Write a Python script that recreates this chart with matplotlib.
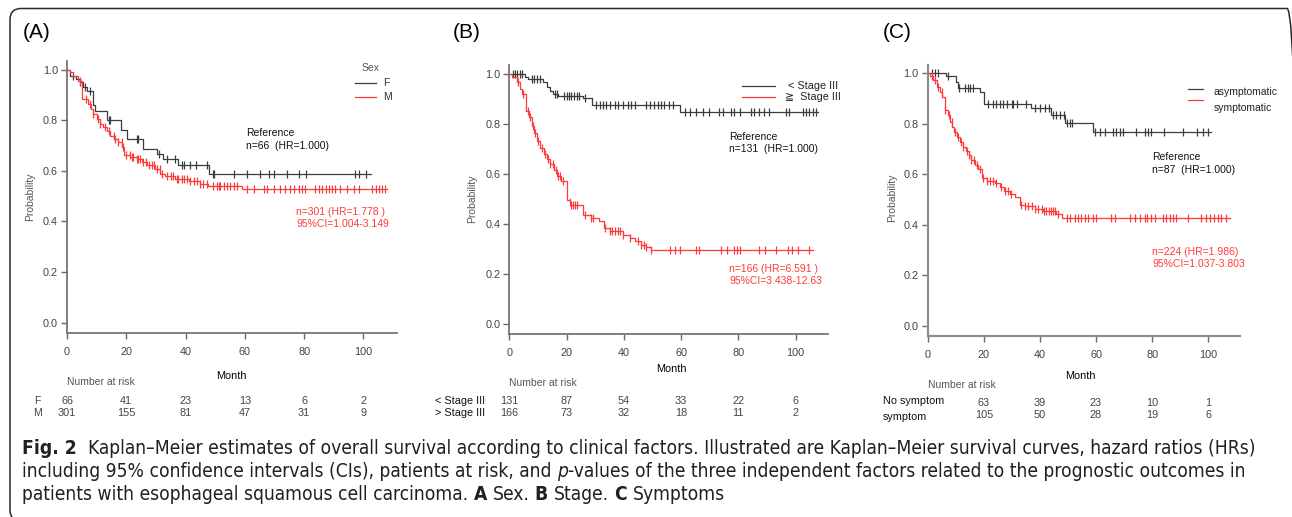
import matplotlib
matplotlib.use('Agg')
import matplotlib.pyplot as plt
from matplotlib import font_manager
from matplotlib.lines import Line2D
from matplotlib.patches import FancyBboxPatch
from matplotlib.transforms import blended_transform_factory, IdentityTransform
import numpy as np

W, H = 1292, 517

# ---- data (months, survival probability) ----
# (A) Sex
f_times = [0, 1.0, 3.0, 4.4, 5.5, 6.6, 8.9, 9.5, 13.4, 18.2, 20.2, 25.8, 30.3, 32.5, 37.6, 48.0]
f_surv = [1.0, 0.977, 0.964, 0.951, 0.931, 0.918, 0.859, 0.836, 0.803, 0.763, 0.727, 0.685, 0.668, 0.646, 0.625, 0.588]
f_end = 102.4
f_cens = [2.1, 4.4, 6.1, 7.8, 14.0, 14.5, 23.5, 24.1, 30.9, 33.7, 36.5, 38.7, 39.5, 41.6, 43.6, 47.2,
          49.2, 49.7, 56.2, 60.7, 65.2, 68.0, 69.7, 74.2, 78.2, 80.7, 97.3, 98.4, 100.7]

m_times = [0, 1.0, 2.1, 3.8, 5.0, 7.2, 8.0, 8.9, 10.0, 11.1, 12.3, 13.4, 14.5, 16.0, 17.3, 18.7, 19.3,
           21.3, 23.5, 25.2, 27.1, 29.7, 31.4, 33.1, 36.5, 41.0, 44.9, 47.7, 59.0]
m_surv = [1.0, 0.990, 0.977, 0.957, 0.885, 0.865, 0.846, 0.826, 0.806, 0.786, 0.773, 0.757, 0.740, 0.727,
          0.714, 0.694, 0.665, 0.655, 0.646, 0.636, 0.622, 0.609, 0.589, 0.580, 0.570, 0.560, 0.550, 0.541, 0.530]
m_end = 108.0
m_cens = [4.4, 6.4, 7.8, 8.9, 10.4, 11.1, 12.8, 14.0, 15.7, 16.2, 17.3, 18.5, 19.0, 19.9, 21.1, 21.8, 22.4,
          23.5, 24.1, 24.7, 25.8, 26.7, 27.8, 28.6, 29.2, 30.3, 31.2, 32.0, 33.7, 35.0, 35.9, 37.0, 37.6,
          38.7, 39.5, 40.4, 41.6, 42.7, 43.8, 44.9, 45.8, 47.2, 49.4, 50.6, 51.1, 51.7, 52.8, 53.9, 55.1,
          56.2, 57.3, 60.7, 63.0, 66.3, 67.5, 69.7, 72.0, 73.6, 75.3, 76.5, 78.2, 79.3, 80.4, 83.8, 84.9,
          86.0, 87.2, 88.3, 89.4, 90.5, 92.2, 94.5, 96.7, 98.4, 102.9, 104.1, 105.2, 106.3, 107.4]

# (B) Stage
lo_times = [0, 5.5, 6.6, 11.9, 13.0, 14.2, 15.3, 17.1, 25.8, 28.9, 59.5]
lo_surv = [1.0, 0.988, 0.979, 0.966, 0.948, 0.932, 0.919, 0.910, 0.902, 0.876, 0.846]
lo_end = 107.7
lo_cens = [1.2, 2.0, 2.8, 3.7, 4.6, 7.8, 8.6, 9.5, 10.7, 15.9, 16.5, 19.0, 20.0, 20.9, 21.7, 22.5, 23.5,
           24.3, 26.4, 30.4, 31.6, 32.8, 33.9, 35.1, 36.8, 38.0, 39.7, 41.5, 42.6, 43.8, 47.9, 49.0, 50.4,
           51.9, 53.1, 54.2, 55.7, 57.1, 61.2, 63.0, 65.3, 67.6, 69.9, 73.4, 74.6, 77.5, 78.6, 80.4, 84.4,
           85.6, 87.3, 89.1, 90.8, 96.6, 97.8, 102.4, 103.6, 104.8, 105.9, 107.1]

hi_times = [0, 1.1, 2.6, 3.7, 4.3, 6.0, 6.9, 7.8, 8.7, 9.5, 10.7, 12.2, 13.0, 14.2, 15.7, 16.8, 18.2,
            20.0, 21.1, 21.7, 25.8, 28.7, 31.3, 33.1, 35.1, 39.7, 42.1, 43.8, 46.1, 47.9, 49.6]
hi_surv = [1.0, 0.986, 0.966, 0.940, 0.919, 0.852, 0.826, 0.792, 0.765, 0.732, 0.705, 0.679, 0.658, 0.638,
           0.614, 0.592, 0.572, 0.498, 0.489, 0.478, 0.438, 0.425, 0.411, 0.385, 0.371, 0.358, 0.344, 0.331,
           0.318, 0.307, 0.295]
hi_end = 105.9
hi_cens = [3.1, 4.9, 6.4, 7.2, 8.4, 9.0, 10.1, 11.3, 12.4, 13.4, 14.2, 15.3, 16.2, 17.1, 17.7, 18.8, 21.1,
           21.7, 22.3, 22.9, 23.5, 26.4, 28.7, 29.3, 33.3, 35.1, 35.7, 36.8, 38.0, 38.6, 39.7, 42.1, 44.9,
           46.1, 47.0, 47.9, 49.6, 56.2, 57.7, 59.5, 65.3, 66.2, 74.0, 76.1, 78.6, 79.6, 80.7, 87.3, 89.4,
           93.2, 97.2, 98.9, 100.7, 104.5]

# (C) Symptoms
asy_times = [0, 6.4, 10.0, 10.9, 18.6, 20.0, 36.8, 43.9, 49.1, 59.0]
asy_surv = [1.0, 0.989, 0.967, 0.943, 0.927, 0.880, 0.861, 0.834, 0.803, 0.768]
asy_end = 100.8
asy_cens = [1.4, 2.6, 3.8, 7.3, 11.3, 13.3, 14.5, 15.1, 16.2, 21.6, 23.4, 24.5, 25.7, 26.9, 28.1, 29.9,
            30.5, 31.7, 35.2, 38.2, 40.0, 41.7, 43.2, 44.7, 45.9, 47.1, 48.6, 49.8, 50.6, 51.5, 59.8, 61.3,
            63.1, 66.1, 67.2, 68.4, 69.6, 74.4, 77.3, 78.5, 79.7, 84.2, 91.0, 96.1, 98.1, 99.9]

sym_times = [0, 0.8, 2.0, 3.2, 4.4, 5.2, 6.2, 7.1, 7.9, 8.8, 9.5, 10.3, 11.5, 12.7, 13.5, 14.7, 15.6,
             16.8, 18.0, 19.4, 21.0, 23.9, 25.7, 27.3, 29.3, 31.1, 32.9, 34.6, 38.2, 41.1, 45.9, 47.7]
sym_surv = [1.0, 0.989, 0.973, 0.947, 0.927, 0.907, 0.854, 0.834, 0.807, 0.788, 0.768, 0.748, 0.728, 0.708,
            0.692, 0.675, 0.655, 0.637, 0.622, 0.586, 0.575, 0.564, 0.548, 0.535, 0.522, 0.509, 0.479, 0.475,
            0.462, 0.453, 0.442, 0.429]
sym_end = 107.6
sym_cens = [1.4, 2.6, 3.8, 5.0, 6.2, 7.6, 8.5, 9.7, 10.7, 11.9, 12.7, 13.9, 14.7, 15.6, 16.6, 17.4, 18.6,
            19.8, 21.0, 22.2, 23.4, 24.5, 26.1, 27.5, 28.7, 29.6, 33.4, 34.6, 35.8, 37.0, 38.2, 39.4, 40.6,
            41.5, 42.3, 43.2, 44.1, 44.7, 45.5, 46.5, 49.5, 50.6, 52.4, 53.6, 54.8, 56.0, 57.2, 58.9, 60.1,
            65.5, 66.7, 72.0, 73.8, 75.5, 77.3, 78.3, 79.5, 80.9, 83.9, 85.0, 86.2, 87.4, 88.6, 92.7, 97.5,
            99.3, 100.5, 102.2, 103.4, 104.6, 106.3]

# number at risk
risk_t_ab = [0, 20, 40, 60, 80, 100]
risk_t_c = [20, 40, 60, 80, 100]
risk_f = [66, 41, 23, 13, 6, 2]
risk_m = [301, 155, 81, 47, 31, 9]
risk_lo = [131, 87, 54, 33, 22, 6]
risk_hi = [166, 73, 32, 18, 11, 2]
risk_asy = [63, 39, 23, 10, 1]
risk_sym = [105, 50, 28, 19, 6]

BLACK = '#3c3c3c'
RED = '#ff3a3a'
FONT = 'Liberation Sans'
plt.rcParams['font.family'] = [FONT, 'DejaVu Sans']

fig = plt.figure(figsize=(W / 100, H / 100), dpi=100)
fig.patch.set_facecolor('white')


def P(x, y):
    return x / W, 1 - y / H


def ftext(x, y, s, **kw):
    kw.setdefault('fontsize', 7.5)
    kw.setdefault('va', 'center')
    return fig.text(*P(x, y), s, **kw)


def km(ax, times, surv, end, cens, color):
    t = list(times) + [end]
    s = list(surv) + [surv[-1]]
    ax.step(t, s, where='post', color=color, lw=0.9, zorder=3)
    idx = np.searchsorted(times, cens, side='right') - 1
    ax.plot(cens, np.asarray(surv)[idx], ls='none', marker='|', ms=5.5, mew=0.9,
            color=color, zorder=3)


def make_axes(left, right, bottom, top, spine_col='#6a6a6a', spine_w=1.2):
    ax = fig.add_axes([left / W, 1 - bottom / H, (right - left) / W, (bottom - top) / H])
    ax.set_xlim(0, 111.3)
    ax.set_ylim(-0.04, 1.035)
    for s in ('top', 'right'):
        ax.spines[s].set_visible(False)
    for s in ('left', 'bottom'):
        ax.spines[s].set_color(spine_col)
        ax.spines[s].set_linewidth(spine_w)
    ax.set_xticks([0, 20, 40, 60, 80, 100])
    ax.set_yticks([0, 0.2, 0.4, 0.6, 0.8, 1.0])
    ax.set_yticklabels(['0.0', '0.2', '0.4', '0.6', '0.8', '1.0'])
    ax.tick_params(direction='out', length=4, width=1, color='#6a6a6a',
                   labelsize=7.8, labelcolor='#444444')
    ax.tick_params(axis='y', pad=2.5)
    ax.tick_params(axis='x', pad=6)
    ax.patch.set_alpha(0)
    return ax


def risk_rows(ax, times, rows, ys):
    tr = blended_transform_factory(ax.transData, fig.transFigure)
    for vals, y in zip(rows, ys):
        for t, v in zip(times, vals):
            ax.text(t, 1 - y / H, str(v), transform=tr, ha='center', va='center',
                    fontsize=7.8, color='#444444')


def legend_line(x0, x1, y, color):
    fig.add_artist(Line2D([x0 / W, x1 / W], [1 - y / H] * 2, color=color, lw=0.9,
                          transform=fig.transFigure))


# ---------------- Panel A ----------------
axA = make_axes(67, 397, 332.7, 61)
km(axA, f_times, f_surv, f_end, f_cens, BLACK)
km(axA, m_times, m_surv, m_end, m_cens, RED)
ftext(23, 33, '(A)', fontsize=15)
ftext(30, 197, 'Probability', rotation=90, ha='center', color='#555555')
ftext(231, 376, 'Month', ha='center', fontsize=7.8)
ftext(67, 382, 'Number at risk', color='#555555')
ftext(37.5, 400.7, 'F', ha='center', color='#444444')
ftext(37.5, 412.7, 'M', ha='center', color='#444444')
risk_rows(axA, risk_t_ab, [risk_f, risk_m], [400.7, 412.7])
ftext(370.5, 68, 'Sex', ha='center', color='#555555')
legend_line(355, 376, 83.3, BLACK)
legend_line(355, 376, 96.5, RED)
ftext(383, 83.3, 'F', color='#333333')
ftext(383, 96.5, 'M', color='#333333')
ftext(246.5, 133.3, 'Reference', color='#111111')
ftext(246.5, 146, 'n=66  (HR=1.000)', color='#111111')
ftext(296.5, 212.3, 'n=301 (HR=1.778 )', color=RED)
ftext(296.5, 224.3, '95%CI=1.004-3.149', color=RED)

# ---------------- Panel B ----------------
axB = make_axes(509.3, 828, 334.3, 65)
km(axB, lo_times, lo_surv, lo_end, lo_cens, BLACK)
km(axB, hi_times, hi_surv, hi_end, hi_cens, RED)
ftext(453, 33, '(B)', fontsize=15)
ftext(471.7, 199, 'Probability', rotation=90, ha='center', color='#555555')
ftext(671, 369, 'Month', ha='center', fontsize=7.8)
ftext(509.3, 383.3, 'Number at risk', color='#555555')
ftext(435, 401, '< Stage III', fontsize=7.8, color='#111111')
ftext(435, 413.3, '> Stage III', fontsize=7.8, color='#111111')
risk_rows(axB, risk_t_ab, [risk_lo, risk_hi], [401, 413.3])
legend_line(741.7, 775, 86, BLACK)
legend_line(741.7, 775, 97, RED)
ftext(788.3, 86, '< Stage III', fontsize=7.8, color='#222222')
ftext(785, 97.5, '≧  Stage III', fontsize=7.8, color='#222222',
      family=[FONT, 'DejaVu Sans', 'Noto Sans CJK JP'])
ftext(729.3, 136.7, 'Reference', color='#111111')
ftext(729.3, 149.3, 'n=131  (HR=1.000)', color='#111111')
ftext(729.3, 268.7, 'n=166 (HR=6.591 )', color=RED)
ftext(729.3, 280.7, '95%CI=3.438-12.63', color=RED)

# ---------------- Panel C ----------------
axC = make_axes(927.7, 1240, 336, 64.5, spine_col='#8e8e8e', spine_w=1.6)
km(axC, asy_times, asy_surv, asy_end, asy_cens, BLACK)
km(axC, sym_times, sym_surv, sym_end, sym_cens, RED)
ftext(883, 33, '(C)', fontsize=15)
ftext(891.7, 198, 'Probability', rotation=90, ha='center', color='#555555')
ftext(1080, 376, 'Month', ha='center', fontsize=7.8)
ftext(927.7, 385, 'Number at risk', color='#555555')
ftext(882.7, 401, 'No symptom', fontsize=7.8, color='#111111')
ftext(882.7, 416.7, 'symptom', fontsize=7.8, color='#111111')
risk_rows(axC, risk_t_c, [risk_asy, risk_sym], [403.3, 415])
legend_line(1188.3, 1203.3, 89, BLACK)
legend_line(1188.3, 1203.3, 100, RED)
ftext(1213.3, 91.7, 'asymptomatic', color='#222222')
ftext(1213.3, 108, 'symptomatic', color='#222222')
ftext(1152.3, 156.7, 'Reference', color='#111111')
ftext(1152.3, 170, 'n=87  (HR=1.000)', color='#111111')
ftext(1152.3, 251.7, 'n=224 (HR=1.986)', color=RED)
ftext(1152.3, 264.3, '95%CI=1.037-3.803', color=RED)

# ---------------- frame ----------------
frame = FancyBboxPatch((10, -4), 1288, H - 8.5 + 4, boxstyle='round,pad=0,rounding_size=11',
                       transform=IdentityTransform(), fill=False, ec='#2a2a2a', lw=1.1)
fig.add_artist(frame)

# ---------------- caption ----------------
# a narrow face is closer to the journal's condensed caption font
fonts = font_manager.fontManager.ttflist
names = {f.name for f in fonts}
if 'Liberation Sans Narrow' in names:
    cap_font, cap_stretch = 'Liberation Sans Narrow', 'normal'
elif any(f.name == 'DejaVu Sans' and f.stretch == 'condensed' for f in fonts):
    cap_font, cap_stretch = 'DejaVu Sans', 'condensed'
else:
    cap_font, cap_stretch = 'Liberation Sans', 'normal'
renderer = fig.canvas.get_renderer()
CAP_COL = '#231f20'

cap_lines = [
    [('Fig. 2', 'bold', 'normal'),
     ('  Kaplan–Meier estimates of overall survival according to clinical factors. Illustrated are '
      'Kaplan–Meier survival curves, hazard ratios (HRs)', 'normal', 'normal')],
    [('including 95% confidence intervals (CIs), patients at risk, and ', 'normal', 'normal'),
     ('p', 'normal', 'italic'),
     ('-values of the three independent factors related to the prognostic outcomes in', 'normal', 'normal')],
    [('patients with esophageal squamous cell carcinoma. ', 'normal', 'normal'),
     ('A', 'bold', 'normal'), (' Sex. ', 'normal', 'normal'),
     ('B', 'bold', 'normal'), (' Stage. ', 'normal', 'normal'),
     ('C', 'bold', 'normal'), (' Symptoms', 'normal', 'normal')],
]
cap_y = [448.3, 471.7, 494]


def run_width(s, size, weight, style):
    t = fig.text(0, 0, s, fontsize=size, fontweight=weight, fontstyle=style,
                 family=cap_font, fontstretch=cap_stretch)
    w = t.get_window_extent(renderer).width
    t.remove()
    return w


def space_width(size):
    return run_width('x x', size, 'normal', 'normal') - run_width('xx', size, 'normal', 'normal')


def line_width(runs, size):
    sw = space_width(size)
    total = 0
    for s, wt, st in runs:
        core = s.strip(' ')
        lead = len(s) - len(s.lstrip(' '))
        trail = len(s) - len(s.rstrip(' '))
        total += (lead + trail) * sw + run_width(core, size, wt, st)
    return total


cap_size = 10 * 1240 / line_width(cap_lines[0], 10)

sw = space_width(cap_size)
for runs, y in zip(cap_lines, cap_y):
    x = 22
    for s, wt, st in runs:
        core = s.strip(' ')
        lead = len(s) - len(s.lstrip(' '))
        trail = len(s) - len(s.rstrip(' '))
        x += lead * sw
        fig.text(*P(x, y), core, fontsize=cap_size, fontweight=wt, fontstyle=st,
                 family=cap_font, fontstretch=cap_stretch, color=CAP_COL, va='center', ha='left')
        x += run_width(core, cap_size, wt, st) + trail * sw

fig.savefig('out.png', dpi=100, facecolor='white')
